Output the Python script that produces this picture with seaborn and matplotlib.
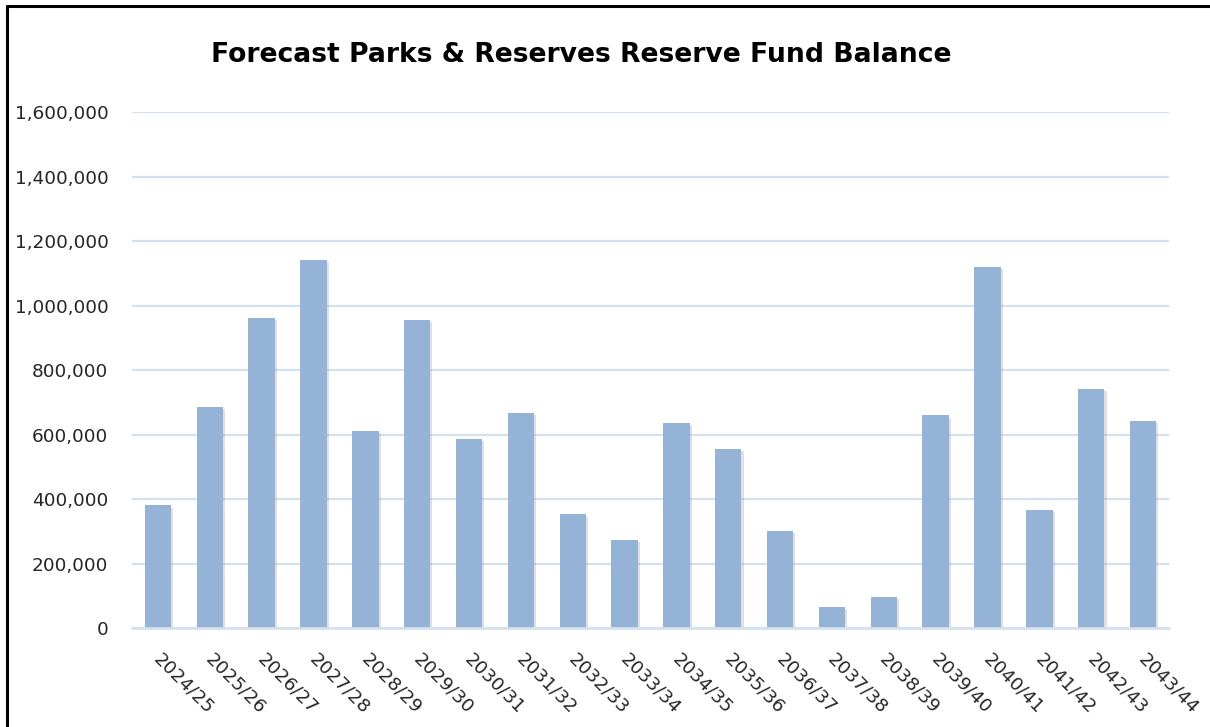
import matplotlib
matplotlib.use("Agg")
import matplotlib.pyplot as plt
import matplotlib.transforms as mtransforms
from matplotlib.lines import Line2D
from matplotlib import patheffects as pe
from matplotlib.ticker import FuncFormatter, MultipleLocator
import seaborn as sns
import pandas as pd

# ---- data ----
years = ["2024/25", "2025/26", "2026/27", "2027/28", "2028/29", "2029/30",
         "2030/31", "2031/32", "2032/33", "2033/34", "2034/35", "2035/36",
         "2036/37", "2037/38", "2038/39", "2039/40", "2040/41", "2041/42",
         "2042/43", "2043/44"]
balance = [381000, 687000, 962000, 1141000, 612000, 955000,
           588000, 668000, 353000, 273000, 636000, 556000,
           301000, 67000, 98000, 660000, 1121000, 366000,
           743000, 644000]
title = "Forecast Parks & Reserves Reserve Fund Balance"
y_max = 1600000
y_step = 200000

df = pd.DataFrame({"year": years, "balance": balance})

sns.set_theme(style="white")
plt.rcParams["font.family"] = ["DejaVu Sans"]

W, H = 1210, 727
fig = plt.figure(figsize=(W / 100, H / 100), dpi=100)
fig.patch.set_facecolor("white")

left, right, top, bottom = 132, 1169, 112.3, 628.3
ax = fig.add_axes([left / W, (H - bottom) / H, (right - left) / W, (bottom - top) / H])

sns.barplot(data=df, x="year", y="balance", color="#95B3D7", saturation=1,
            width=0.51, linewidth=0, edgecolor="none", ax=ax, zorder=3)
for p in ax.patches:
    p.set_linewidth(0)
    p.set_edgecolor("none")
    p.set_path_effects([pe.SimplePatchShadow(offset=(1.5, -1.5), shadow_rgbFace="#9a9a9a", alpha=0.3),
                        pe.Normal()])

ax.set_xlim(-0.5, len(years) - 0.5)
ax.set_ylim(0, y_max)
ax.yaxis.set_major_locator(MultipleLocator(y_step))
ax.yaxis.set_major_formatter(FuncFormatter(lambda v, _: f"{int(v):,}"))
ax.yaxis.grid(True, color="#D6E1F0", linewidth=1.6, zorder=0)
ax.set_axisbelow(True)
for s in ax.spines.values():
    s.set_visible(False)
ax.axhline(0, color="#D6E1F0", linewidth=2.0, zorder=4, clip_on=False)

ax.set_xlabel("")
ax.set_ylabel("")
ax.tick_params(axis="y", length=0, pad=17, labelsize=13.3, labelcolor="#262626")
ax.tick_params(axis="x", length=0, pad=15, labelsize=13.3, labelcolor="#262626")

offset = mtransforms.ScaledTranslation(5 / 100, -1 / 100, fig.dpi_scale_trans)
for lab in ax.get_xticklabels():
    lab.set_rotation(-45)
    lab.set_rotation_mode("anchor")
    lab.set_ha("left")
    lab.set_va("top")
    lab.set_transform(lab.get_transform() + offset)

fig.text(581 / W, 1 - 55 / H, title, ha="center", va="center",
         fontsize=19.2, fontweight="bold", color="black")

# outer frame (left and top edges visible)
fig.add_artist(Line2D([6.5 / W, 1.0], [1 - 6 / H, 1 - 6 / H], transform=fig.transFigure,
                      color="black", linewidth=2.2))
fig.add_artist(Line2D([7 / W, 7 / W], [0, 1 - 6 / H], transform=fig.transFigure,
                      color="black", linewidth=2.2))

fig.savefig("out.png", dpi=100, facecolor="white")
